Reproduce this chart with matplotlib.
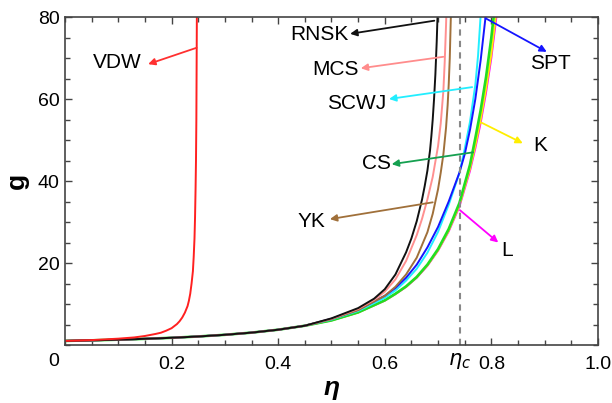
import matplotlib
matplotlib.use("Agg")
import matplotlib.pyplot as plt

plt.rcParams['font.family'] = ['Liberation Sans', 'DejaVu Sans']
plt.rcParams['mathtext.fontset'] = 'dejavusans'

# common low-density part (all curves coincide there)
eta_low = [0.0, 0.05, 0.1, 0.15, 0.2, 0.25, 0.3, 0.35, 0.4, 0.45]
g_low = [1.0, 1.14, 1.30, 1.51, 1.76, 2.08, 2.49, 3.02, 3.73, 4.70]

# VDW
eta_vdw = [0.0, 0.05, 0.1, 0.13, 0.15, 0.17, 0.18, 0.19, 0.2, 0.21, 0.215, 0.22, 0.225,
           0.23, 0.2325, 0.235, 0.2375, 0.24, 0.2415, 0.243, 0.244, 0.245, 0.2458, 0.2465, 0.2475]
g_vdw = [1.0, 1.2, 1.55, 1.85, 2.2, 2.7, 3.0, 3.5, 4.1, 5.1, 5.8, 6.7, 7.9,
         9.5, 10.8, 12.5, 15.0, 18.0, 21.5, 26.0, 31.0, 38.0, 45.0, 55.0, 82.0]

# upper parts of the other curves
eta_rnsk = [0.5, 0.55, 0.58, 0.6, 0.62, 0.64, 0.65, 0.66, 0.67, 0.675, 0.68, 0.685,
            0.6875, 0.69, 0.6925, 0.695, 0.6975, 0.7]
g_rnsk = [6.5, 9.0, 11.3, 13.6, 17.2, 22.6, 26.0, 30.2, 35.5, 38.8, 42.5, 47.5,
          51.0, 55.0, 60.0, 66.0, 74.0, 84.0]

eta_mcs = [0.5, 0.55, 0.58, 0.6, 0.62, 0.64, 0.66, 0.67, 0.68, 0.69, 0.7, 0.705,
           0.71, 0.7125, 0.715, 0.72]
g_mcs = [6.4, 8.8, 11.0, 13.0, 16.0, 20.5, 26.8, 30.8, 35.5, 41.0, 48.5, 54.0,
         62.0, 69.0, 78.0, 100.0]

eta_yk = [0.5, 0.55, 0.6, 0.62, 0.64, 0.66, 0.68, 0.69, 0.7, 0.705, 0.71, 0.715,
          0.718, 0.72, 0.722, 0.724]
g_yk = [6.3, 8.5, 12.0, 14.2, 17.2, 21.3, 27.5, 32.0, 38.0, 42.0, 46.5, 53.0,
        58.5, 63.5, 70.0, 80.0]

eta_spt = [0.5, 0.55, 0.6, 0.62, 0.64, 0.66, 0.68, 0.7, 0.72, 0.74, 0.75, 0.76,
           0.77, 0.78, 0.79]
g_spt = [6.4, 8.6, 12.0, 13.9, 16.4, 19.6, 23.8, 28.8, 35.0, 42.0, 46.5, 52.5,
         60.0, 69.5, 81.0]

eta_scwj = [0.5, 0.55, 0.6, 0.62, 0.64, 0.66, 0.68, 0.7, 0.72, 0.74, 0.75, 0.76,
            0.77, 0.775, 0.78]
g_scwj = [6.2, 8.3, 11.5, 13.3, 15.7, 18.6, 22.5, 27.6, 34.2, 41.9, 47.8, 54.5,
          63.5, 70.5, 80.5]

eta_cs = [0.5, 0.55, 0.6, 0.62, 0.64, 0.66, 0.68, 0.7, 0.72, 0.74, 0.76, 0.77,
          0.78, 0.79, 0.8, 0.81]
g_cs = [6.0, 7.96, 10.9, 12.5, 14.3, 16.6, 19.6, 23.4, 28.3, 34.6, 44.0, 50.5,
        57.3, 65.3, 75.0, 86.7]

eta_k = [0.5, 0.55, 0.6, 0.62, 0.64, 0.66, 0.68, 0.7, 0.72, 0.74, 0.76, 0.77,
         0.78, 0.79, 0.8, 0.81]
g_k = [6.0, 7.93, 10.85, 12.45, 14.2, 16.5, 19.4, 23.1, 27.9, 34.0, 43.0, 48.7,
       55.0, 62.5, 71.0, 82.0]

eta_l = [0.5, 0.55, 0.6, 0.62, 0.64, 0.66, 0.68, 0.7, 0.72, 0.74, 0.76, 0.77,
         0.78, 0.79, 0.8, 0.81]
g_l = [6.0, 7.92, 10.8, 12.4, 14.15, 16.4, 19.3, 23.0, 27.7, 33.7, 42.5, 48.0,
       54.2, 61.5, 70.0, 80.5]

eta_c = 0.7405

fig = plt.figure(figsize=(6.12, 4.03), dpi=100)
ax = fig.add_axes([0.1062, 0.1439, 0.8708, 0.8139])

curves = [
    (eta_l, g_l, '#ff00ff', 1.4),
    (eta_k, g_k, '#ffee00', 1.4),
    (eta_cs, g_cs, '#22dd22', 1.9),
    (eta_scwj, g_scwj, '#22eeff', 1.4),
    (eta_spt, g_spt, '#1515ff', 1.4),
    (eta_yk, g_yk, '#a0703a', 1.4),
    (eta_mcs, g_mcs, '#ff9090', 1.4),
    (eta_rnsk, g_rnsk, '#111111', 1.4),
]
for e, g, c, lw in curves:
    ax.plot(eta_low + e, g_low + g, color=c, lw=lw)
ax.plot(eta_vdw, g_vdw, color='#ff2020', lw=1.4)

ax.axvline(eta_c, color='#888888', lw=1.5, ls=(0, (3, 2.5)))

# arrows: (label, start on curve, arrow tip, text position, colour)
notes = [
    ('VDW', (0.247, 72.5), (0.156, 68.5), (0.0976, 68.8), '#ff3030'),
    ('RNSK', (0.693, 79.1), (0.535, 75.9), (0.478, 75.8), '#111111'),
    ('MCS', (0.710, 70.3), (0.555, 67.5), (0.508, 67.3), '#ff8c8c'),
    ('SCWJ', (0.764, 62.9), (0.608, 60.0), (0.5466, 58.8), '#22eeff'),
    ('CS', (0.766, 47.0), (0.613, 44.1), (0.584, 44.3), '#15a050'),
    ('YK', (0.690, 34.8), (0.497, 30.7), (0.463, 30.2), '#a0703a'),
    ('SPT', (0.789, 79.7), (0.904, 71.5), (0.91, 68.7), '#1515ff'),
    ('K', (0.782, 54.2), (0.859, 49.2), (0.891, 48.6), '#ffee00'),
    ('L', (0.741, 32.9), (0.813, 25.0), (0.829, 23.0), '#ff00ff'),
]
for name, start, tip, pos, c in notes:
    ax.annotate('', xy=tip, xytext=start,
                arrowprops=dict(arrowstyle='-|>', color=c, lw=1.3,
                                mutation_scale=10, shrinkA=0, shrinkB=0))
    ax.text(pos[0], pos[1], name, fontsize=15, ha='center', va='center')

ax.set_xlim(0, 1)
ax.set_ylim(0, 80)
ax.set_xticks([0.2, 0.4, 0.6, 0.8, 1.0])
ax.set_xticklabels(['0.2', '0.4', '0.6', '0.8', '1.0'])
ax.set_yticks([20, 40, 60, 80])
ax.set_xticks([i * 0.05 for i in range(21)], minor=True)
ax.set_yticks([i * 5 for i in range(17)], minor=True)
ax.tick_params(which='both', direction='in', top=True, right=True,
               labelsize=14, color='#444444')
ax.tick_params(which='major', length=5, width=1)
ax.tick_params(which='minor', length=3.3, width=1)
ax.tick_params(axis='x', pad=8)
ax.tick_params(axis='y', pad=4)
for s in ax.spines.values():
    s.set_color('#444444')
    s.set_linewidth(1.2)

# shared origin label and the eta_c mark under the axis
ax.text(-0.021, -0.05, '0', transform=ax.transAxes, fontsize=14,
        ha='center', va='center')
ax.text(eta_c, -0.05, r'$\eta_c$', transform=ax.get_xaxis_transform(),
        fontsize=15, ha='center', va='center')

ax.set_xlabel('η', fontsize=19, fontweight='bold', fontstyle='italic', labelpad=2)
ax.set_ylabel('g', fontsize=19, fontweight='bold', labelpad=6)

fig.savefig('out.png', dpi=100)
